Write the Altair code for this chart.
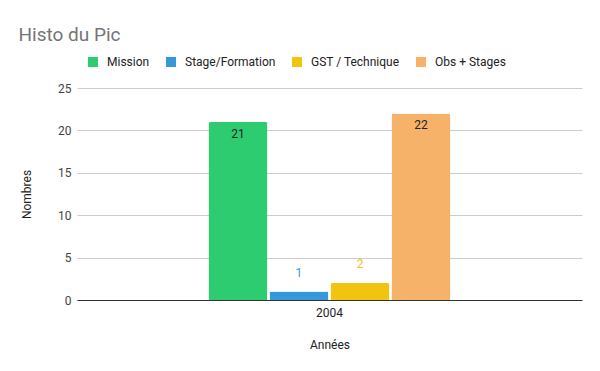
import altair as alt
import pandas as pd

years = ["2004"]
series = ["Mission", "Stage/Formation", "GST / Technique", "Obs + Stages"]
values = [21, 1, 2, 22]
colors = ["#2ecc71", "#3498db", "#f1c40f", "#f7b26a"]

df = pd.DataFrame({
    "Années": years * len(series),
    "Série": series,
    "Nombres": values,
})

FONT = "Roboto"

base = alt.Chart(df).encode(
    x=alt.X("Années:N",
            scale=alt.Scale(paddingInner=0, paddingOuter=0.5434),
            axis=alt.Axis(title="Années", labelAngle=0, ticks=False,
                          domainColor="#333333", labelColor="#222222",
                          labelFontSize=12, labelPadding=7,
                          titleFontSize=12, titleColor="#222222",
                          titleFontWeight="normal", titlePadding=21)),
    xOffset=alt.XOffset("Série:N", sort=series,
                        scale=alt.Scale(paddingInner=0.033, paddingOuter=0)),
)

color_scale = alt.Scale(domain=series, range=colors)

bars = base.mark_bar(cornerRadiusTopLeft=2, cornerRadiusTopRight=2).encode(
    y=alt.Y("Nombres:Q",
            scale=alt.Scale(domain=[0, 25], nice=False),
            axis=alt.Axis(title="Nombres", values=[0, 5, 10, 15, 20, 25],
                          ticks=False, domain=False, gridColor="#cccccc",
                          labelColor="#444444", labelFontSize=12,
                          labelPadding=6, titleFontSize=12,
                          titleColor="#222222", titleFontWeight="normal",
                          titlePadding=24)),
    color=alt.Color("Série:N", scale=color_scale, sort=series,
                    legend=alt.Legend(title=None, orient="none",
                                      direction="horizontal",
                                      legendX=10, legendY=-32,
                                      symbolType="square", symbolSize=100,
                                      symbolStrokeWidth=0,
                                      labelFontSize=12, labelColor="#222222",
                                      labelOffset=8, columnPadding=15)),
)

inside = base.mark_text(baseline="middle", dy=12, fontSize=12,
                        color="#222222", font=FONT).encode(
    y="Nombres:Q",
    text="Nombres:Q",
).transform_filter("datum['Nombres'] > 5")

outside = base.mark_text(baseline="middle", dy=-19, fontSize=12,
                         font=FONT).encode(
    y="Nombres:Q",
    text="Nombres:Q",
    color=alt.Color("Série:N", scale=color_scale, sort=series, legend=None),
).transform_filter("datum['Nombres'] <= 5")

chart = alt.layer(bars, inside, outside).properties(
    width=505,
    height=212,
    title=alt.TitleParams("Histo du Pic", anchor="start", fontSize=19,
                          color="#757575", fontWeight="normal", font=FONT,
                          dx=-2, offset=11),
    autosize=alt.AutoSizeParams(type="none"),
    padding={"left": 69, "top": 80, "right": 10, "bottom": 60},
).configure(font=FONT).configure_view(stroke=None)

chart.save("out.html", embed_options={"renderer": "svg", "actions": False})
